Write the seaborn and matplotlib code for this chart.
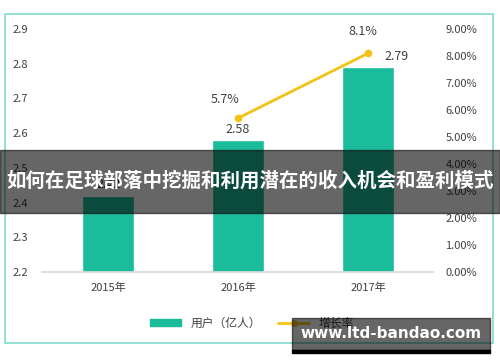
import numpy as np
import pandas as pd
import matplotlib
matplotlib.use("Agg")
import matplotlib.pyplot as plt
import matplotlib.patches as mpatches
from matplotlib.lines import Line2D
import seaborn as sns

years = ["2015年", "2016年", "2017年"]
users = [2.42, 2.58, 2.79]
growth_years = ["2016年", "2017年"]
growth = [5.7, 8.1]
title = "如何在足球部落中挖掘和利用潜在的收入机会和盈利模式"
watermark = "www.ltd-bandao.com"

bar_color = "#1abc9c"
line_color = "#f2c314"
text_color = "#404040"

sns.set_theme(style="white")
plt.rcParams["font.family"] = ["Noto Sans CJK SC", "DejaVu Sans"]

fig = plt.figure(figsize=(5, 3.62), dpi=100)
W, H = 500, 362

# outer light-teal frame
fig.patches.append(mpatches.Rectangle((5 / W, 1 - 343 / H), 488 / W, 329 / H,
                                      transform=fig.transFigure, fill=False,
                                      edgecolor="#7fdccc", linewidth=1.2))

ax = fig.add_axes([42 / W, 1 - 272 / H, 391 / W, 243 / H])
df = pd.DataFrame({"year": years, "users": users})
sns.barplot(data=df, x="year", y="users", color=bar_color, width=0.4,
            saturation=1, ax=ax)
ax.set_ylim(2.2, 2.9)
ax.set_yticks(np.arange(2.2, 2.91, 0.1))
ax.set_yticklabels([f"{v:.1f}" for v in np.arange(2.2, 2.91, 0.1)])
ax.set_xlim(-0.51, 2.5)
ax.set_xlabel("")
ax.set_ylabel("")
for s in ["top", "left", "right"]:
    ax.spines[s].set_visible(False)
ax.spines["bottom"].set_color("#d9d9d9")
ax.tick_params(axis="y", length=0, pad=10, labelsize=8, labelcolor=text_color)
ax.tick_params(axis="x", length=0, pad=8, labelsize=8, labelcolor=text_color)

for i, v in enumerate(users):
    dx = 0.22 if i == 2 else 0
    ax.text(i + dx, v + 0.012, f"{v:.2f}", ha="center", va="bottom",
            fontsize=9, color=text_color)

ax2 = ax.twinx()
gdf = pd.DataFrame({"year": growth_years, "growth": growth})
sns.pointplot(data=gdf, x="year", y="growth", order=years, color=line_color,
              markers="o", markersize=4, linewidth=2, ax=ax2)
ax2.set_ylim(0, 9)
ax2.set_yticks(np.arange(0, 9.1, 1))
ax2.set_yticklabels([f"{v:.2f}%" for v in np.arange(0, 9.1, 1)])
ax2.set_xlim(-0.51, 2.5)
ax2.set_ylabel("")
ax2.set_xlabel("")
for s in ["top", "left", "right", "bottom"]:
    ax2.spines[s].set_visible(False)
ax2.tick_params(axis="y", length=0, pad=9, labelsize=8, labelcolor=text_color)
ax2.grid(False)

offsets = {0: (-0.1, 0.45), 1: (-0.04, 0.55)}
for j, g in enumerate(growth):
    ox, oy = offsets[j]
    ax2.text(years.index(growth_years[j]) + ox, g + oy, f"{g}%",
             ha="center", va="bottom", fontsize=9, color=text_color)

# legend
handles = [mpatches.Patch(color=bar_color, label="用户（亿人）"),
           Line2D([0], [0], color=line_color, linewidth=2, marker="o",
                  markersize=4, label="增长率")]
fig.legend(handles=handles, loc="center", bbox_to_anchor=(252 / W, 1 - 323 / H),
           ncol=2, frameon=False, fontsize=8.5, handlelength=2.6,
           handleheight=0.5, columnspacing=1.5, labelcolor=text_color)

# title banner
fig.patches.append(mpatches.Rectangle((0, 1 - 213 / H), 1, 63 / H,
                                      transform=fig.transFigure,
                                      color="black", alpha=0.6, zorder=10))
fig.text(0.5, 1 - 181 / H, title, ha="center", va="center", color="white",
         fontsize=14, fontweight="bold", zorder=11)

# watermark
fig.patches.append(mpatches.Rectangle((292 / W, 1 - 350 / H), 198 / W, 32 / H,
                                      transform=fig.transFigure,
                                      color="black", alpha=0.6, zorder=10))
fig.patches.append(mpatches.Rectangle((292 / W, 1 - 353 / H), 198 / W, 3 / H,
                                      transform=fig.transFigure,
                                      color="black", zorder=10))
fig.text(391 / W, 1 - 334 / H, watermark, ha="center", va="center",
         color="white", fontsize=11, fontweight="bold",
         family="DejaVu Sans", zorder=11)

fig.savefig("out.png", dpi=100)
